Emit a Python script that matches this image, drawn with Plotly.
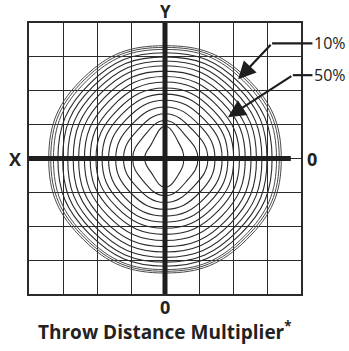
import math
import plotly.graph_objects as go

# ring radii (grid cells) read along eight compass directions, inner -> outer
angles_deg = [0, 45, 90, 135, 180, 225, 270, 315]
r_e = [0.55, 0.97, 1.26, 1.47, 1.68, 1.85, 2.02, 2.19, 2.36, 2.53, 2.69, 2.85, 3.00, 3.15, 3.28, 3.36, 3.42]
r_ne = [0.60, 0.90, 1.17, 1.41, 1.63, 1.83, 2.01, 2.19, 2.36, 2.53, 2.70, 2.85, 3.00, 3.13, 3.25, 3.32, 3.38]
r_n = [0.95, 1.12, 1.32, 1.52, 1.72, 1.90, 2.08, 2.26, 2.42, 2.58, 2.74, 2.88, 3.00, 3.12, 3.22, 3.28, 3.33]
r_nw = [0.58, 0.90, 1.16, 1.40, 1.62, 1.82, 2.00, 2.18, 2.36, 2.53, 2.70, 2.85, 3.00, 3.13, 3.25, 3.32, 3.38]
r_w = [0.60, 0.95, 1.22, 1.45, 1.66, 1.85, 2.03, 2.20, 2.37, 2.54, 2.70, 2.86, 3.01, 3.15, 3.28, 3.36, 3.42]
r_sw = [0.58, 0.92, 1.18, 1.43, 1.65, 1.84, 2.02, 2.20, 2.38, 2.56, 2.72, 2.88, 3.02, 3.15, 3.27, 3.33, 3.39]
r_s = [0.85, 1.10, 1.30, 1.50, 1.70, 1.88, 2.06, 2.24, 2.42, 2.60, 2.76, 2.92, 3.06, 3.18, 3.28, 3.33, 3.38]
r_se = [0.60, 0.92, 1.18, 1.43, 1.65, 1.84, 2.02, 2.20, 2.38, 2.56, 2.72, 2.88, 3.02, 3.15, 3.27, 3.33, 3.39]

# callouts: label, label y, start of leader line, arrow tip
callout_labels = ["10%", "50%"]
callout_y = [3.40, 2.46]
callout_x0 = [3.15, 3.76]
tip_x = [2.15, 1.85]
tip_y = [2.34, 1.22]

fig = go.Figure()

dirs = [r_e, r_ne, r_n, r_nw, r_w, r_sw, r_s, r_se]
n_rings = len(r_e)
for i in range(n_rings):
    xs, ys = [], []
    for a, rd in zip(angles_deg + [360], dirs + [dirs[0]]):
        t = math.radians(a)
        xs.append(rd[i] * math.cos(t))
        ys.append(rd[i] * math.sin(t))
    outer = i >= n_rings - 3
    fig.add_trace(go.Scatter(
        x=xs, y=ys, mode="lines",
        line=dict(color="#4a4a4a" if outer else "#2a2a2a", width=1.0 if outer else 1.1,
                  shape="spline", smoothing=1.3),
        hoverinfo="skip", showlegend=False))

# thick axes
fig.add_shape(type="line", x0=-4, x1=3.7, y0=0, y1=0, line=dict(color="#1e1e1e", width=5))
fig.add_shape(type="line", x0=0, x1=0, y0=-4, y1=4, line=dict(color="#1e1e1e", width=5))

# leader lines start inside the plot and run out past its right edge
leader_x0_paper = [(x + 4) / 8 for x in callout_x0]
for lab, y, x0, xp, tx, ty in zip(callout_labels, callout_y, callout_x0, leader_x0_paper, tip_x, tip_y):
    fig.add_shape(type="line", xref="paper", yref="y", x0=xp, x1=1.042, y0=y, y1=y,
                  line=dict(color="#1e1e1e", width=2.2), layer="above")
    fig.add_annotation(x=tx, y=ty, ax=x0, ay=y, xref="x", yref="y", axref="x", ayref="y",
                       text="", showarrow=True, arrowhead=2, arrowsize=1.6, arrowwidth=2.2,
                       arrowcolor="#1e1e1e")
    fig.add_annotation(x=1.042, y=y, xref="paper", yref="y", text=lab, showarrow=False,
                       xanchor="left", yanchor="middle",
                       font=dict(size=16, color="#222", family="Open Sans"))

bold = dict(size=18, color="#222", family="Open Sans")
fig.add_annotation(x=0, y=1, xref="x", yref="paper", yshift=12, xanchor="center", yanchor="middle",
                   text="<b>Y</b>", showarrow=False, font=dict(size=17, color="#222", family="Open Sans"))
fig.add_annotation(x=0, y=0, xref="paper", yref="y", xshift=-14, xanchor="center", yanchor="middle",
                   text="<b>X</b>", showarrow=False, font=bold)
fig.add_annotation(x=1, y=0, xref="paper", yref="y", xshift=11, xanchor="center", yanchor="middle",
                   text="<b>0</b>", showarrow=False, font=bold)
fig.add_annotation(x=0, y=0, xref="x", yref="paper", yshift=-13, xanchor="center", yanchor="middle",
                   text="<b>0</b>", showarrow=False, font=bold)
fig.add_annotation(x=0, y=0, xref="x", yref="paper", yshift=-37, xanchor="center", yanchor="middle",
                   text="<b>Throw Distance Multiplier<sup>*</sup></b>", showarrow=False,
                   font=dict(size=19, color="#222", family="Open Sans"))

axis = dict(range=[-4, 4], dtick=1, tick0=-4, showgrid=True, gridcolor="#2a2a2a", gridwidth=1.2,
            zeroline=False, showticklabels=False, ticks="", showline=True, linecolor="#2a2a2a",
            linewidth=1.5, mirror=True, fixedrange=True)
fig.update_xaxes(**axis)
fig.update_yaxes(**axis)

fig.update_layout(
    width=349, height=351,
    margin=dict(l=29, r=48, t=23, b=57),
    plot_bgcolor="white", paper_bgcolor="white",
    showlegend=False)

fig.write_html("out.html", config={"displayModeBar": False},
               post_script="document.body.style.margin='0';")
